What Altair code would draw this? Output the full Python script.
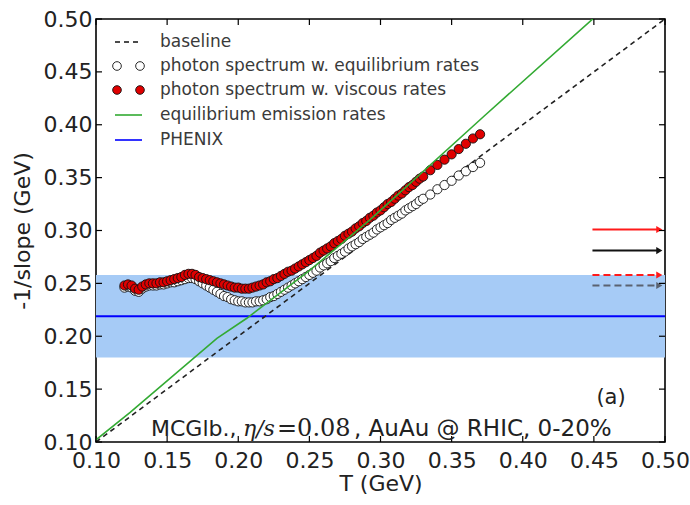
import altair as alt
import pandas as pd

# ---------------- data ----------------
T_vals = [0.1200, 0.1225, 0.1250, 0.1275, 0.1300, 0.1325, 0.1350, 0.1375, 0.1400, 0.1425,
          0.1450, 0.1475, 0.1500, 0.1525, 0.1550, 0.1575, 0.1600, 0.1625, 0.1650, 0.1675,
          0.1700, 0.1725, 0.1750, 0.1775, 0.1800, 0.1825, 0.1850, 0.1875, 0.1900, 0.1925,
          0.1950, 0.1975, 0.2000, 0.2025, 0.2050, 0.2075, 0.2100, 0.2125, 0.2150, 0.2175,
          0.2200, 0.2225, 0.2250, 0.2275, 0.2300, 0.2325, 0.2350, 0.2375, 0.2400, 0.2425,
          0.2450, 0.2475, 0.2500, 0.2525, 0.2550, 0.2575, 0.2600, 0.2625, 0.2650, 0.2675,
          0.2700, 0.2725, 0.2750, 0.2775, 0.2800, 0.2825, 0.2850, 0.2875, 0.2900, 0.2925,
          0.2950, 0.2975, 0.3000, 0.3025, 0.3050, 0.3075, 0.3100, 0.3125, 0.3150, 0.3175,
          0.3200, 0.3225, 0.3250, 0.3275, 0.3300, 0.3350, 0.3400, 0.3450, 0.3500, 0.3550,
          0.3600, 0.3650, 0.3700]
viscous_vals = [0.248, 0.249, 0.248, 0.245, 0.244, 0.247, 0.249, 0.250, 0.250, 0.250,
                0.251, 0.251, 0.252, 0.253, 0.254, 0.255, 0.256, 0.258, 0.259, 0.259,
                0.258, 0.256, 0.255, 0.254, 0.253, 0.252, 0.251, 0.250, 0.249, 0.248,
                0.247, 0.246, 0.246, 0.245, 0.245, 0.245, 0.246, 0.247, 0.248, 0.249,
                0.251, 0.252, 0.254, 0.255, 0.257, 0.259, 0.261, 0.262, 0.264, 0.266,
                0.268, 0.270, 0.272, 0.274, 0.276, 0.279, 0.281, 0.283, 0.285, 0.288,
                0.290, 0.292, 0.295, 0.297, 0.299, 0.302, 0.304, 0.307, 0.309, 0.312,
                0.314, 0.317, 0.319, 0.322, 0.325, 0.327, 0.330, 0.333, 0.335, 0.338,
                0.341, 0.343, 0.346, 0.349, 0.351, 0.357, 0.362, 0.367, 0.372, 0.377,
                0.382, 0.387, 0.391]
equil_vals = [0.246, 0.247, 0.246, 0.243, 0.242, 0.245, 0.247, 0.248, 0.248, 0.248,
              0.249, 0.249, 0.250, 0.251, 0.251, 0.252, 0.253, 0.254, 0.255, 0.255,
              0.254, 0.252, 0.250, 0.248, 0.246, 0.244, 0.242, 0.240, 0.238, 0.237,
              0.235, 0.234, 0.233, 0.233, 0.232, 0.232, 0.232, 0.233, 0.233, 0.234,
              0.235, 0.237, 0.238, 0.240, 0.242, 0.244, 0.246, 0.248, 0.250, 0.252,
              0.254, 0.256, 0.258, 0.260, 0.262, 0.265, 0.267, 0.269, 0.271, 0.274,
              0.276, 0.278, 0.280, 0.283, 0.285, 0.287, 0.289, 0.292, 0.294, 0.296,
              0.298, 0.301, 0.303, 0.305, 0.307, 0.310, 0.312, 0.314, 0.316, 0.319,
              0.321, 0.323, 0.325, 0.328, 0.330, 0.334, 0.339, 0.343, 0.347, 0.352,
              0.356, 0.360, 0.364]
green_T = [0.100, 0.124, 0.185, 0.206, 0.250, 0.2925, 0.3735, 0.450]
green_v = [0.102, 0.128, 0.198, 0.217, 0.262, 0.310, 0.409, 0.501]
baseline_T = [0.10, 0.50]
baseline_v = [0.10, 0.50]
phenix_val = 0.219
phenix_lo = 0.180
phenix_hi = 0.258
arrow_vals = [0.301, 0.281, 0.258, 0.248]
arrow_colors = ["#ff1a1a", "#111111", "#ff1a1a", "#5a6270"]
arrow_dashed = [False, False, True, True]
tick_vals = [0.10, 0.15, 0.20, 0.25, 0.30, 0.35, 0.40, 0.45, 0.50]
legend_labels = ["baseline", "photon spectrum w. equilibrium rates",
                 "photon spectrum w. viscous rates", "equilibrium emission rates", "PHENIX"]

# ---------------- layout ----------------
W, H = 569, 423
FONT = "DejaVu Sans"

xs = alt.Scale(domain=[0.10, 0.50], nice=False, zero=False)
ys = alt.Scale(domain=[0.10, 0.50], nice=False, zero=False)
x_axis = alt.Axis(values=tick_vals, format=".2f", tickSize=0, domain=False, grid=False,
                  labelFontSize=22, labelFont=FONT, labelColor="#222", labelPadding=8,
                  labelFlush=False, labelOverlap=False, title="T (GeV)", titleFont=FONT,
                  titleFontSize=22, titleFontWeight="normal", titleColor="#222", titlePadding=2)
y_axis = alt.Axis(values=tick_vals, format=".2f", tickSize=0, domain=False, grid=False,
                  labelFontSize=22, labelFont=FONT, labelColor="#222", labelPadding=4,
                  labelFlush=False, labelOverlap=False, title="-1/slope (GeV)", titleFont=FONT,
                  titleFontSize=22, titleFontWeight="normal", titleColor="#222", titlePadding=9)


def X(f):
    return alt.X(f, type="quantitative", scale=xs, axis=x_axis)


def Y(f):
    return alt.Y(f, type="quantitative", scale=ys, axis=y_axis)


pts = pd.DataFrame({"T": T_vals, "visc": viscous_vals, "eq": equil_vals})
green_df = pd.DataFrame({"T": green_T, "v": green_v})
base_df = pd.DataFrame({"T": baseline_T, "v": baseline_v})
band_df = pd.DataFrame({"x0": [0.10], "x1": [0.50], "lo": [phenix_lo], "hi": [phenix_hi]})
phen_df = pd.DataFrame({"v": [phenix_val]})
tick_df = pd.DataFrame({"t": tick_vals})
one = pd.DataFrame({"k": [0]})

MS = 85
layers = []
layers.append(alt.Chart(band_df).mark_rect(color="#a6cbf6", opacity=1).encode(
    x=X("x0"), x2="x1", y=Y("lo"), y2="hi"))
layers.append(alt.Chart(phen_df).mark_rule(color="#0000ff", strokeWidth=2).encode(y=Y("v")))
layers.append(alt.Chart(base_df).mark_line(color="#222", strokeWidth=1.6, strokeDash=[5, 4]).encode(
    x=X("T"), y=Y("v")))
layers.append(alt.Chart(pts).mark_point(shape="circle", filled=True, fill="white", stroke="#111",
                                        strokeWidth=0.9, size=MS, opacity=1).encode(
    x=X("T"), y=Y("eq")))
layers.append(alt.Chart(pts).mark_point(shape="circle", filled=True, fill="#e00000", stroke="#111",
                                        strokeWidth=0.9, size=MS, opacity=1).encode(
    x=X("T"), y=Y("visc")))
layers.append(alt.Chart(green_df).mark_line(color="#33aa33", strokeWidth=1.6, clip=True).encode(
    x=X("T"), y=Y("v")))

# arrows on the right
for v, c, d in zip(arrow_vals, arrow_colors, arrow_dashed):
    adf = pd.DataFrame({"x0": [0.449], "x1": [0.496], "v": [v]})
    kw = {"strokeDash": [7, 4]} if d else {}
    layers.append(alt.Chart(adf).mark_rule(color=c, strokeWidth=2, **kw).encode(
        x=X("x0"), x2="x1", y=Y("v")))
    layers.append(alt.Chart(adf).mark_point(shape="triangle-right", filled=True, color=c,
                                            size=50, opacity=1).encode(x=X("x1"), y=Y("v")))

# inward ticks on all four sides
layers.append(alt.Chart(tick_df).mark_rule(color="black", strokeWidth=1.2).encode(
    x=X("t"), y=alt.value(H), y2=alt.value(H - 6)))
layers.append(alt.Chart(tick_df).mark_rule(color="black", strokeWidth=1.2).encode(
    x=X("t"), y=alt.value(0), y2=alt.value(6)))
layers.append(alt.Chart(tick_df).mark_rule(color="black", strokeWidth=1.2).encode(
    y=Y("t"), x=alt.value(0), x2=alt.value(6)))
layers.append(alt.Chart(tick_df).mark_rule(color="black", strokeWidth=1.2).encode(
    y=Y("t"), x=alt.value(W), x2=alt.value(W - 6)))

# legend (manual)
row_y = [23, 47, 71, 96, 121]
LS = 75
layers.append(alt.Chart(one).mark_rule(color="#111", strokeWidth=1.6, strokeDash=[5, 4]).encode(
    x=alt.value(19), x2=alt.value(46), y=alt.value(row_y[0])))
for px in (21, 44):
    layers.append(alt.Chart(one).mark_point(shape="circle", filled=True, fill="white", stroke="#111",
                                            strokeWidth=0.9, size=LS, opacity=1).encode(
        x=alt.value(px), y=alt.value(row_y[1])))
    layers.append(alt.Chart(one).mark_point(shape="circle", filled=True, fill="#e00000", stroke="#111",
                                            strokeWidth=0.9, size=LS, opacity=1).encode(
        x=alt.value(px), y=alt.value(row_y[2])))
layers.append(alt.Chart(one).mark_rule(color="#33aa33", strokeWidth=1.6).encode(
    x=alt.value(19), x2=alt.value(46), y=alt.value(row_y[3])))
layers.append(alt.Chart(one).mark_rule(color="#0000ff", strokeWidth=1.6).encode(
    x=alt.value(19), x2=alt.value(46), y=alt.value(row_y[4])))
for lab, yy in zip(legend_labels, row_y):
    layers.append(alt.Chart(pd.DataFrame({"label": [lab]})).mark_text(
        align="left", baseline="middle", font=FONT, fontSize=17, color="#3a3a3a").encode(
        text="label:N", x=alt.value(64), y=alt.value(yy)))

# annotations
layers.append(alt.Chart(pd.DataFrame({"s": ["(a)"]})).mark_text(
    align="center", baseline="middle", font=FONT, fontSize=21, color="#222").encode(
    text="s:N", x=alt.value(515), y=alt.value(379)))
ann = [("MCGlb.,", 55, FONT, "normal", 22), ("η/s", 147, "DejaVu Serif", "italic", 22),
       ("=0.08", 181, "DejaVu Serif", "normal", 24),
       (", AuAu @ RHIC, 0-20%", 258, FONT, "normal", 23)]
for s, px, fnt, sty, fs in ann:
    layers.append(alt.Chart(pd.DataFrame({"s": [s]})).mark_text(
        align="left", baseline="middle", font=fnt, fontStyle=sty, fontSize=fs, color="#222").encode(
        text="s:N", x=alt.value(px), y=alt.value(410)))

chart = alt.layer(*layers).properties(
    width=W, height=H,
    autosize=alt.AutoSizeParams(type="none"),
    padding={"left": 96, "top": 19, "right": 25, "bottom": 63},
    background="white",
).configure_view(stroke="black", strokeWidth=1.6)

chart.save("out.html", embed_options={"renderer": "svg", "actions": False})
